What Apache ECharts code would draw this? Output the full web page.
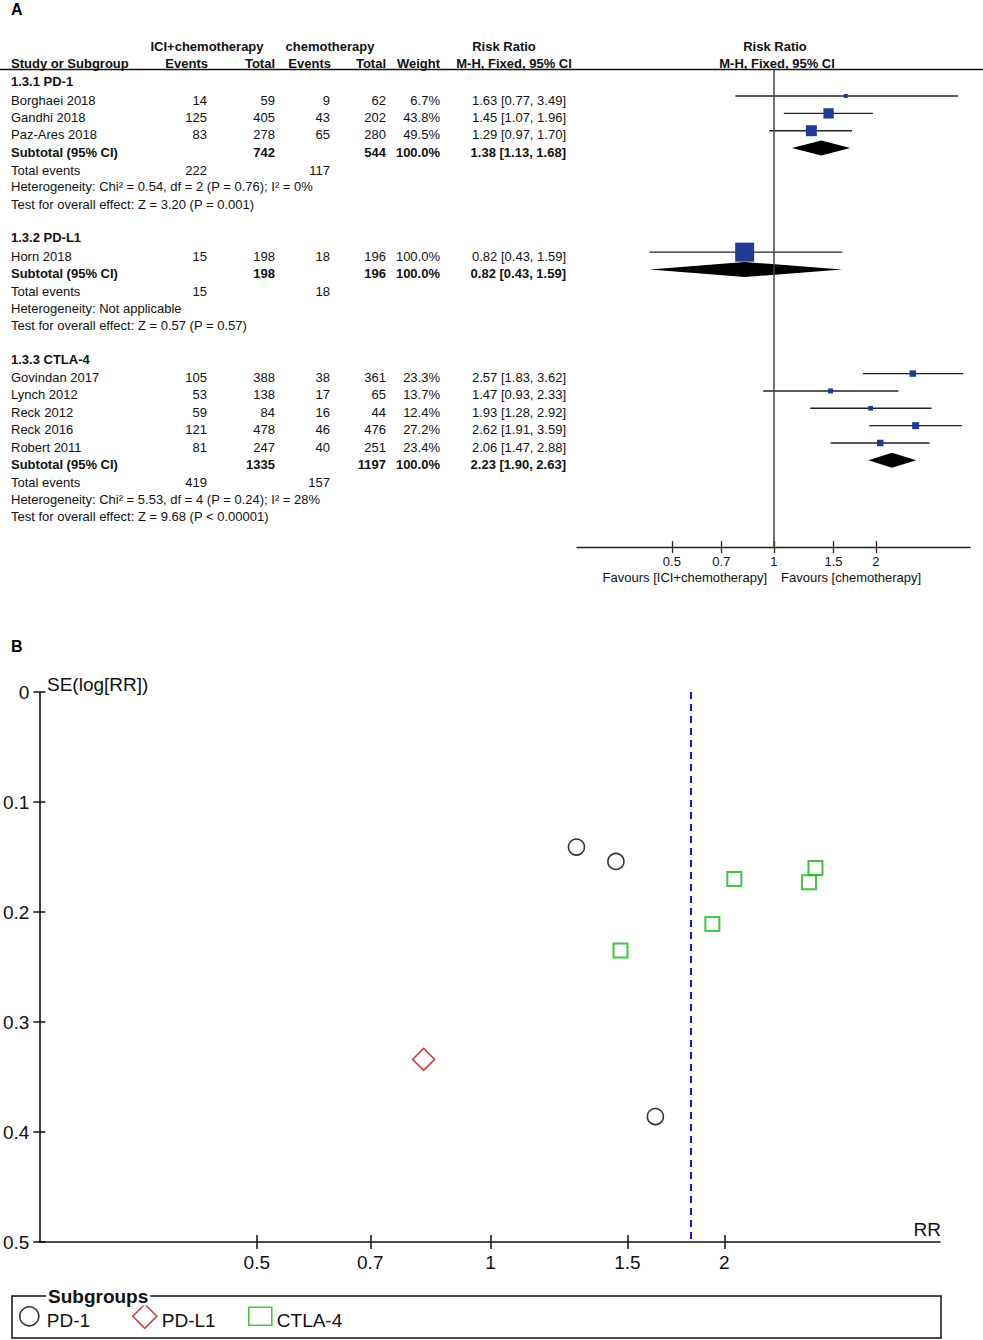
<!DOCTYPE html>
<html>
<head>
<meta charset="utf-8">
<title>Forest and funnel plot</title>
<script src="https://cdn.jsdelivr.net/npm/echarts@6/dist/echarts.min.js"></script>
<style>
  html, body { margin: 0; padding: 0; background: #fff; }
  #chart { width: 983px; height: 1340px; }
</style>
</head>
<body>
<div id="chart"></div>
<script>
// 1. Daten
const subgroupNames = ['1.3.1 PD-1', '1.3.2 PD-L1', '1.3.3 CTLA-4'];
const legendNames = ['PD-1', 'PD-L1', 'CTLA-4'];

const studyNames = ['Borghaei 2018', 'Gandhi 2018', 'Paz-Ares 2018', 'Horn 2018',
  'Govindan 2017', 'Lynch 2012', 'Reck 2012', 'Reck 2016', 'Robert 2011'];
const studyGroup = [0, 0, 0, 1, 2, 2, 2, 2, 2];
const iciEvents = [14, 125, 83, 15, 105, 53, 59, 121, 81];
const iciTotal = [59, 405, 278, 198, 388, 138, 84, 478, 247];
const chemoEvents = [9, 43, 65, 18, 38, 17, 16, 46, 40];
const chemoTotal = [62, 202, 280, 196, 361, 65, 44, 476, 251];
const weights = [6.7, 43.8, 49.5, 100.0, 23.3, 13.7, 12.4, 27.2, 23.4];
const rr = [1.63, 1.45, 1.29, 0.82, 2.57, 1.47, 1.93, 2.62, 2.06];
const ciLow = [0.77, 1.07, 0.97, 0.43, 1.83, 0.93, 1.28, 1.91, 1.47];
const ciHigh = [3.49, 1.96, 1.70, 1.59, 3.62, 2.33, 2.92, 3.59, 2.88];
const seLogRR = [0.386, 0.154, 0.141, 0.334, 0.173, 0.235, 0.211, 0.160, 0.170];

const subIciTotal = [742, 198, 1335];
const subChemoTotal = [544, 196, 1197];
const subRR = [1.38, 0.82, 2.23];
const subLow = [1.13, 0.43, 1.90];
const subHigh = [1.68, 1.59, 2.63];
const totalIciEvents = [222, 15, 419];
const totalChemoEvents = [117, 18, 157];
const hetTexts = [
  'Heterogeneity: Chi\u00b2 = 0.54, df = 2 (P = 0.76); I\u00b2 = 0%',
  'Heterogeneity: Not applicable',
  'Heterogeneity: Chi\u00b2 = 5.53, df = 4 (P = 0.24); I\u00b2 = 28%'
];
const testTexts = [
  'Test for overall effect: Z = 3.20 (P = 0.001)',
  'Test for overall effect: Z = 0.57 (P = 0.57)',
  'Test for overall effect: Z = 9.68 (P < 0.00001)'
];

const rrTicks = [0.5, 0.7, 1, 1.5, 2];
const rrMin = 0.2625, rrMax = 3.79;
const pooledRR = 1.81;

// 2. Stil
const FONT = '"Liberation Sans", Arial, Helvetica, sans-serif';
const BLUE = '#1e3c96';
const markScale = [15.6, 19, 13.4]; // Quadratgröße je Subgruppe

// 3. Tabellenzellen aufbauen (Zeilenindex -> y-Achse)
const cells = [];
function cell(x, r, text, align, bold) {
  cells.push({ x: x, r: r, text: String(text), align: align, bold: !!bold });
}
const col = { name: 11, iciEv: 207, iciTot: 275, chEv: 330, chTot: 386, weight: 440, rr: 566 };
const fmtCI = (v, a, b) => v.toFixed(2) + ' [' + a.toFixed(2) + ', ' + b.toFixed(2) + ']';

// Kopfzeilen
cell(207, -3.1, 'ICI+chemotherapy', 'center', true);
cell(330, -3.1, 'chemotherapy', 'center', true);
cell(504, -3.1, 'Risk Ratio', 'center', true);
cell(775, -3.1, 'Risk Ratio', 'center', true);
cell(col.name, -2.1, 'Study or Subgroup', 'left', true);
cell(208, -2.1, 'Events', 'right', true);
cell(col.iciTot, -2.1, 'Total', 'right', true);
cell(331, -2.1, 'Events', 'right', true);
cell(col.chTot, -2.1, 'Total', 'right', true);
cell(col.weight, -2.1, 'Weight', 'right', true);
cell(514, -2.1, 'M-H, Fixed, 95% CI', 'center', true);
cell(777, -2.1, 'M-H, Fixed, 95% CI', 'center', true);

const studyRows = [];
const subRows = [];
let row = 0;
subgroupNames.forEach((g, gi) => {
  cell(col.name, row - 1.05, g, 'left', true);
  studyNames.forEach((n, i) => {
    if (studyGroup[i] !== gi) return;
    studyRows[i] = row;
    cell(col.name, row, n, 'left');
    cell(col.iciEv, row, iciEvents[i], 'right');
    cell(col.iciTot, row, iciTotal[i], 'right');
    cell(col.chEv, row, chemoEvents[i], 'right');
    cell(col.chTot, row, chemoTotal[i], 'right');
    cell(col.weight, row, weights[i].toFixed(1) + '%', 'right');
    cell(col.rr, row, fmtCI(rr[i], ciLow[i], ciHigh[i]), 'right');
    row++;
  });
  subRows[gi] = row;
  cell(col.name, row, 'Subtotal (95% CI)', 'left', true);
  cell(col.iciTot, row, subIciTotal[gi], 'right', true);
  cell(col.chTot, row, subChemoTotal[gi], 'right', true);
  cell(col.weight, row, '100.0%', 'right', true);
  cell(col.rr, row, fmtCI(subRR[gi], subLow[gi], subHigh[gi]), 'right', true);
  cell(col.name, row + 1.05, 'Total events', 'left');
  cell(col.iciEv, row + 1.05, totalIciEvents[gi], 'right');
  cell(col.chEv, row + 1.05, totalChemoEvents[gi], 'right');
  cell(col.name, row + 2, hetTexts[gi], 'left');
  cell(col.name, row + 3, testTexts[gi], 'left');
  row += 6;
});
cell(767, 27.55, 'Favours [ICI+chemotherapy]', 'right');
cell(781, 27.55, 'Favours [chemotherapy]', 'left');

// 4. Diagramm
const chart = echarts.init(document.getElementById('chart'), null, { renderer: 'svg' });

const studyData = studyNames.map((n, i) => [rr[i], studyRows[i], ciLow[i], ciHigh[i]]);
const studySize = weights.map((w, i) => Math.max(3, markScale[studyGroup[i]] * Math.sqrt(w / 100)));
const subData = subgroupNames.map((g, gi) => [subRR[gi], subRows[gi], subLow[gi], subHigh[gi]]);
const funnelData = legendNames.map((n, gi) =>
  studyNames.map((s, i) => i).filter(i => studyGroup[i] === gi).map(i => [rr[i], seLogRR[i]]));

const hidden = { show: false };
const tickOnly = {
  axisLine: { show: false, onZero: false }, axisLabel: { show: false }, splitLine: { show: false },
  axisTick: { show: true, inside: true, length: 6, lineStyle: { color: '#111', width: 1.5 } }
};

const option = {
  animation: false,
  backgroundColor: '#fff',
  textStyle: { fontFamily: FONT },
  grid: [
    { left: 0, top: 39.3, width: 983, height: 546.5, containLabel: false },
    { left: 577, top: 70, width: 393, height: 477.1, containLabel: false },
    { left: 37, top: 692, width: 903, height: 550, containLabel: false }
  ],
  xAxis: [
    { gridIndex: 0, type: 'value', min: 0, max: 983, ...hidden },
    {
      gridIndex: 1, type: 'log', logBase: 10, min: rrMin, max: rrMax, position: 'bottom',
      axisLine: { show: true, onZero: false, lineStyle: { color: '#222', width: 1.3 } },
      axisTick: { show: true, length: 6, customValues: rrTicks, lineStyle: { color: '#222', width: 1.3 } },
      axisLabel: { customValues: rrTicks, fontSize: 13, color: '#111', margin: 8, fontFamily: FONT },
      splitLine: { show: false }, minorTick: { show: false }
    },
    {
      gridIndex: 1, type: 'log', logBase: 10, min: rrMin, max: rrMax, position: 'bottom',
      ...tickOnly,
      axisTick: { show: true, inside: true, length: 6, customValues: rrTicks, lineStyle: { color: '#222', width: 1.3 } }
    },
    {
      gridIndex: 2, type: 'log', logBase: 10, min: rrMin, max: rrMax, position: 'bottom',
      axisLine: { show: true, onZero: false, lineStyle: { color: '#111', width: 1.6 } },
      axisTick: { show: true, length: 7, customValues: rrTicks, lineStyle: { color: '#111', width: 1.5 } },
      axisLabel: { customValues: rrTicks, fontSize: 19, color: '#111', margin: 11, fontFamily: FONT },
      splitLine: { show: false }
    },
    {
      gridIndex: 2, type: 'log', logBase: 10, min: rrMin, max: rrMax, position: 'bottom',
      ...tickOnly,
      axisTick: { show: true, inside: true, length: 7, customValues: rrTicks, lineStyle: { color: '#111', width: 1.5 } }
    }
  ],
  yAxis: [
    { gridIndex: 0, type: 'value', min: -3.5, max: 28, inverse: true, ...hidden },
    { gridIndex: 1, type: 'value', min: -1.5, max: 26, inverse: true, ...hidden },
    {
      gridIndex: 2, type: 'value', min: 0, max: 0.5, interval: 0.1, inverse: true, position: 'left',
      axisLine: { show: true, onZero: false, lineStyle: { color: '#111', width: 1.6 } },
      axisTick: { show: true, length: 6, lineStyle: { color: '#111', width: 1.5 } },
      axisLabel: { fontSize: 19, color: '#111', margin: 10, fontFamily: FONT, showMinLabel: true, showMaxLabel: true },
      splitLine: { show: false }
    },
    {
      gridIndex: 2, type: 'value', min: 0, max: 0.5, interval: 0.1, inverse: true, position: 'left',
      ...tickOnly
    }
  ],
  legend: [
    { data: ['PD-1'], left: 19, top: 1306, itemWidth: 25, itemHeight: 19 },
    { data: ['PD-L1'], left: 132, top: 1303.5, itemWidth: 24, itemHeight: 24 },
    { data: ['CTLA-4'], left: 248, top: 1306.5, itemWidth: 23, itemHeight: 18 }
  ].map(l => Object.assign(l, {
    padding: 0, selectedMode: false, orient: 'horizontal',
    itemStyle: { borderWidth: 1.6 },
    formatter: '{t|{name}}',
    textStyle: {
      fontSize: 19, color: '#111', fontFamily: FONT,
      rich: { t: { fontSize: 19, color: '#111', fontFamily: FONT, padding: [8, 0, 0, 0] } }
    }
  })),
  graphic: [
    { type: 'text', x: 11, y: 9, style: { text: 'A', font: 'bold 16px ' + FONT, fill: '#000', verticalAlign: 'middle', textVerticalAlign: 'middle' } },
    { type: 'text', x: 11, y: 646, style: { text: 'B', font: 'bold 16px ' + FONT, fill: '#000', verticalAlign: 'middle', textVerticalAlign: 'middle' } },
    { type: 'line', shape: { x1: 0, y1: 69.5, x2: 983, y2: 69.5 }, style: { stroke: '#111', lineWidth: 1.5 } },
    { type: 'text', x: 47, y: 684, style: { text: 'SE(log[RR])', font: '19px ' + FONT, fill: '#111', verticalAlign: 'middle', textVerticalAlign: 'middle' } },
    { type: 'text', x: 941, y: 1229, style: { text: 'RR', font: '19px ' + FONT, fill: '#111', align: 'right', textAlign: 'right', verticalAlign: 'middle', textVerticalAlign: 'middle' } },
    { type: 'rect', shape: { x: 12, y: 1296, width: 929, height: 42 }, style: { fill: 'none', stroke: '#111', lineWidth: 1.5 } },
    { type: 'text', x: 46, y: 1296, z: 10, style: { text: 'Subgroups', font: 'bold 19px ' + FONT, fill: '#111', backgroundColor: '#fff', padding: [0, 2], verticalAlign: 'middle', textVerticalAlign: 'middle' } }
  ],
  series: [
    {
      // Tabelle
      type: 'custom', name: 'table', xAxisIndex: 0, yAxisIndex: 0, silent: true,
      data: cells.map(c => [c.x, c.r]),
      renderItem: (params, api) => {
        const c = cells[params.dataIndex];
        const p = api.coord([api.value(0), api.value(1)]);
        return {
          type: 'text', x: p[0], y: p[1],
          style: {
            text: c.text, fill: '#111',
            font: (c.bold ? 'bold ' : '') + '13px ' + FONT,
            align: c.align, textAlign: c.align,
            verticalAlign: 'middle', textVerticalAlign: 'middle'
          }
        };
      }
    },
    {
      // Einzelstudien: Konfidenzintervall + Quadrat
      type: 'custom', name: 'studies', xAxisIndex: 1, yAxisIndex: 1, silent: true,
      data: studyData,
      renderItem: (params, api) => {
        const y = api.value(1);
        const p = api.coord([api.value(0), y]);
        const a = api.coord([api.value(2), y]);
        const b = api.coord([api.value(3), y]);
        const s = studySize[params.dataIndex];
        return {
          type: 'group', children: [
            { type: 'line', shape: { x1: a[0], y1: a[1], x2: b[0], y2: b[1] }, style: { stroke: '#222', lineWidth: 1.4 } },
            { type: 'rect', shape: { x: p[0] - s / 2, y: p[1] - s / 2, width: s, height: s }, style: { fill: BLUE } }
          ]
        };
      },
      markLine: {
        silent: true, symbol: ['none', 'none'], label: { show: false },
        lineStyle: { color: '#444', width: 1.5, type: 'solid' },
        data: [{ xAxis: 1 }]
      }
    },
    {
      // Subtotal-Rauten
      type: 'custom', name: 'subtotals', xAxisIndex: 1, yAxisIndex: 1, silent: true,
      data: subData,
      renderItem: (params, api) => {
        const y = api.value(1);
        const c = api.coord([api.value(0), y]);
        const a = api.coord([api.value(2), y]);
        const b = api.coord([api.value(3), y]);
        const h = 7.5;
        return {
          type: 'polygon',
          shape: { points: [[a[0], a[1]], [c[0], c[1] - h], [b[0], b[1]], [c[0], c[1] + h]] },
          style: { fill: '#000' }
        };
      }
    },
    {
      type: 'scatter', name: 'PD-1', xAxisIndex: 3, yAxisIndex: 2,
      symbol: 'circle', symbolSize: 16, data: funnelData[0],
      itemStyle: { color: 'rgba(255,255,255,0)', borderColor: '#000', borderWidth: 1.6 },
      markLine: {
        silent: true, symbol: ['none', 'none'], label: { show: false },
        lineStyle: { color: '#1a1acd', width: 2, type: [7, 5] },
        data: [{ xAxis: pooledRR }]
      }
    },
    {
      type: 'scatter', name: 'PD-L1', xAxisIndex: 3, yAxisIndex: 2,
      symbol: 'diamond', symbolSize: 22, data: funnelData[1],
      itemStyle: { color: 'rgba(255,255,255,0)', borderColor: '#b01818', borderWidth: 1.6 }
    },
    {
      type: 'scatter', name: 'CTLA-4', xAxisIndex: 3, yAxisIndex: 2,
      symbol: 'rect', symbolSize: 14, data: funnelData[2],
      itemStyle: { color: 'rgba(255,255,255,0)', borderColor: '#10b810', borderWidth: 2 }
    }
  ]
};

chart.setOption(option);

window.addEventListener('resize', () => {
  chart.resize();
});
</script>
</body>
</html>
